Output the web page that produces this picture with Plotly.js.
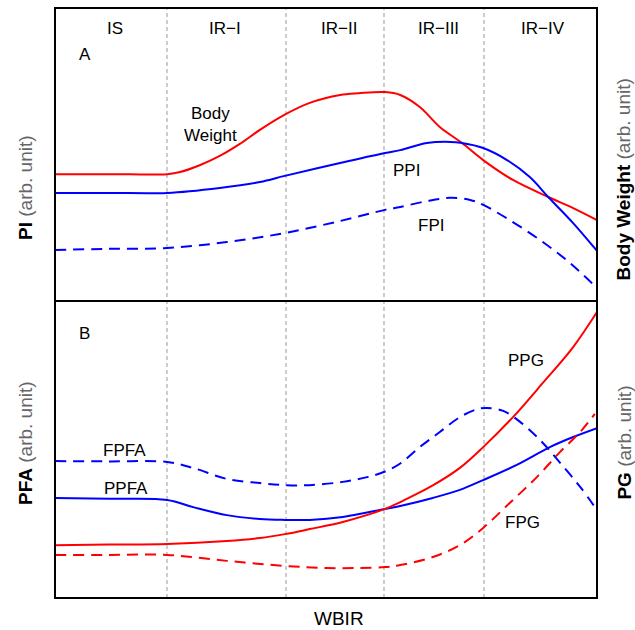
<!DOCTYPE html>
<html>
<head>
<meta charset="utf-8">
<script src="https://cdn.plot.ly/plotly-3.0.1.min.js"></script>
<style>html,body{margin:0;padding:0;background:#fff;}#chart{width:635px;height:630px;}</style>
</head>
<body>
<div id="chart"></div>
<script>
// ---- Data (arbitrary units) ----
// Panel A
const bwX  = [0, 1.0, 2.07, 2.31, 2.68, 3.04, 3.41, 3.78, 4.24, 4.70, 5.26, 5.60, 6.09, 6.37, 6.73, 7.10, 7.51, 7.90, 8.45, 9.10, 9.56, 10];
const bwY  = [43.3, 43.3, 43.3, 44.0, 46.4, 49.5, 53.6, 58.4, 63.6, 67.6, 70.3, 70.9, 71.3, 70.3, 66.2, 59.4, 53.9, 48.1, 41.3, 35.5, 31.7, 27.6];
const ppiX = [0, 1.0, 2.07, 3.04, 3.78, 4.24, 5.26, 6.09, 6.37, 6.86, 7.29, 7.51, 7.90, 8.34, 8.76, 9.10, 9.56, 10];
const ppiY = [36.9, 36.9, 36.9, 38.6, 40.6, 42.7, 47.1, 50.5, 51.5, 53.9, 54.3, 53.9, 52.2, 48.1, 42.3, 35.5, 26.6, 17.1];
const fpiX = [0, 1.0, 2.07, 3.17, 4.24, 5.26, 6.09, 6.37, 6.86, 7.29, 7.66, 7.90, 8.39, 8.95, 9.50, 10];
const fpiY = [17.4, 17.8, 18.1, 20.1, 23.2, 27.3, 31.1, 32.1, 34.1, 35.2, 34.5, 32.8, 27.6, 20.8, 13.0, 4.4];
// Panel B
const fpfaX = [0, 1.0, 2.07, 2.55, 3.17, 3.78, 4.24, 4.70, 5.31, 5.76, 6.09, 6.37, 6.73, 7.10, 7.47, 7.79, 7.97, 8.27, 8.58, 8.95, 9.32, 9.69, 10];
const fpfaY = [46.1, 46.0, 45.8, 43.8, 40.1, 38.7, 38.0, 38.0, 39.1, 40.7, 42.6, 45.3, 50.8, 55.9, 60.9, 63.6, 64.0, 63.0, 59.3, 53.2, 45.5, 37.4, 29.6];
const ppfaX = [0, 1.0, 2.07, 2.55, 3.17, 3.78, 4.24, 4.70, 5.31, 6.09, 6.37, 6.97, 7.47, 7.90, 8.52, 9.13, 9.56, 10];
const ppfaY = [33.7, 33.4, 33.0, 30.6, 27.9, 26.6, 26.3, 26.3, 27.3, 30.0, 31.0, 33.7, 36.4, 39.7, 44.8, 50.8, 54.2, 57.2];
const ppgX = [0, 1.0, 2.07, 3.17, 3.78, 4.24, 4.70, 5.31, 6.09, 6.37, 6.97, 7.47, 7.90, 8.45, 9.00, 9.56, 10];
const ppgY = [17.8, 18.0, 18.2, 19.2, 20.2, 21.5, 23.2, 25.6, 30.0, 32.3, 37.9, 43.8, 50.8, 60.9, 72.4, 84.5, 96.3];
const fpgX = [0, 1.0, 2.07, 3.17, 4.24, 5.02, 5.63, 6.09, 6.37, 6.97, 7.47, 7.90, 8.39, 8.89, 9.32, 9.69, 9.96];
const fpgY = [14.5, 14.5, 14.5, 12.5, 10.8, 10.1, 10.1, 10.4, 11.1, 13.8, 17.8, 23.6, 32.0, 40.7, 49.2, 55.9, 62.0];
// Stage boundaries and labels
const stageBounds = [2.066, 4.262, 6.070, 7.915];
const stageLabels = ['IS', 'IR\u2212I', 'IR\u2212II', 'IR\u2212III', 'IR\u2212IV'];
const stageLabelX = [1.11, 3.14, 5.24, 7.07, 9.0];

const RED = '#ff0000', BLUE = '#0000ff';
const FONT = 'Liberation Sans, Arial, sans-serif';
const DASH = '11px,7px';

function tr(x, y, color, dash, axis) {
  return {x: x, y: y, type: 'scatter', mode: 'lines', yaxis: axis, xaxis: 'x',
    line: {color: color, width: 2, dash: dash, shape: 'spline', smoothing: 1.0},
    hoverinfo: 'skip', showlegend: false};
}
const data = [
  tr(bwX, bwY, RED, 'solid', 'y2'),
  tr(ppiX, ppiY, BLUE, 'solid', 'y2'),
  tr(fpiX, fpiY, BLUE, DASH, 'y2'),
  tr(fpfaX, fpfaY, BLUE, DASH, 'y'),
  tr(ppfaX, ppfaY, BLUE, 'solid', 'y'),
  tr(ppgX, ppgY, RED, 'solid', 'y'),
  tr(fpgX, fpgY, RED, DASH, 'y')
];

const split = 297 / 590;
const shapes = [];
stageBounds.forEach(b => shapes.push({type: 'line', xref: 'x', yref: 'paper', x0: b, x1: b, y0: 0, y1: 1,
  line: {color: '#999999', width: 1, dash: '4px,3px'}, layer: 'below'}));
shapes.push({type: 'rect', xref: 'paper', yref: 'paper', x0: 0, x1: 1, y0: 0, y1: 1,
  line: {color: '#000', width: 2}, layer: 'above'});
shapes.push({type: 'line', xref: 'paper', yref: 'paper', x0: 0, x1: 1, y0: split, y1: split,
  line: {color: '#000', width: 2}, layer: 'above'});

function ann(text, x, y, yref, size, extra) {
  return Object.assign({text: text, x: x, y: y, xref: 'x', yref: yref, showarrow: false,
    xanchor: 'center', yanchor: 'middle', font: {family: FONT, size: size, color: '#000'}}, extra || {});
}
const annotations = [];
stageLabels.forEach((t, i) => annotations.push(ann(t, stageLabelX[i], 93.0, 'y2', 17)));
annotations.push(ann('A', 0.55, 84.3, 'y2', 17));
annotations.push(ann('B', 0.55, 89.2, 'y', 17));
annotations.push(ann('Body<br>Weight', 2.86, 60.1, 'y2', 17));
annotations.push(ann('PPI', 6.48, 44.7, 'y2', 17));
annotations.push(ann('FPI', 6.94, 25.9, 'y2', 17));
annotations.push(ann('FPFA', 1.29, 49.5, 'y', 17));
annotations.push(ann('PPFA', 1.31, 37.0, 'y', 17));
annotations.push(ann('PPG', 8.69, 80.1, 'y', 17));
annotations.push(ann('FPG', 8.63, 25.3, 'y', 17));
const grey = '<span style="color:#666666">(arb. unit)</span>';
function ytitle(main, xp, yp) {
  return {text: '<b>' + main + '</b> ' + grey, xref: 'paper', yref: 'paper', x: xp, y: yp, showarrow: false,
    textangle: -90, xanchor: 'center', yanchor: 'middle', font: {family: FONT, size: 19, color: '#000'}};
}
annotations.push(ytitle('PI', -0.0554, 0.6966));
annotations.push(ytitle('PFA', -0.0554, 0.2627));
annotations.push(ytitle('Body Weight', 1.0490, 0.7085));
annotations.push(ytitle('PG', 1.0490, 0.2627));
annotations.push({text: 'WBIR', xref: 'paper', yref: 'paper', x: 0.524, y: -0.034, showarrow: false,
  xanchor: 'center', yanchor: 'middle', font: {family: FONT, size: 19, color: '#000'}});

const hidden = {showgrid: false, zeroline: false, showticklabels: false, ticks: '', showline: false, fixedrange: true};
const layout = {
  width: 635, height: 630,
  margin: {l: 55, r: 38, t: 8, b: 32, pad: 0},
  paper_bgcolor: '#fff', plot_bgcolor: '#fff',
  showlegend: false,
  xaxis: Object.assign({range: [0, 10]}, hidden),
  yaxis: Object.assign({range: [0, 100], domain: [0, split]}, hidden),
  yaxis2: Object.assign({range: [0, 100], domain: [split, 1]}, hidden),
  shapes: shapes,
  annotations: annotations
};
Plotly.newPlot('chart', data, layout, {staticPlot: true, displayModeBar: false});
</script>
</body>
</html>
